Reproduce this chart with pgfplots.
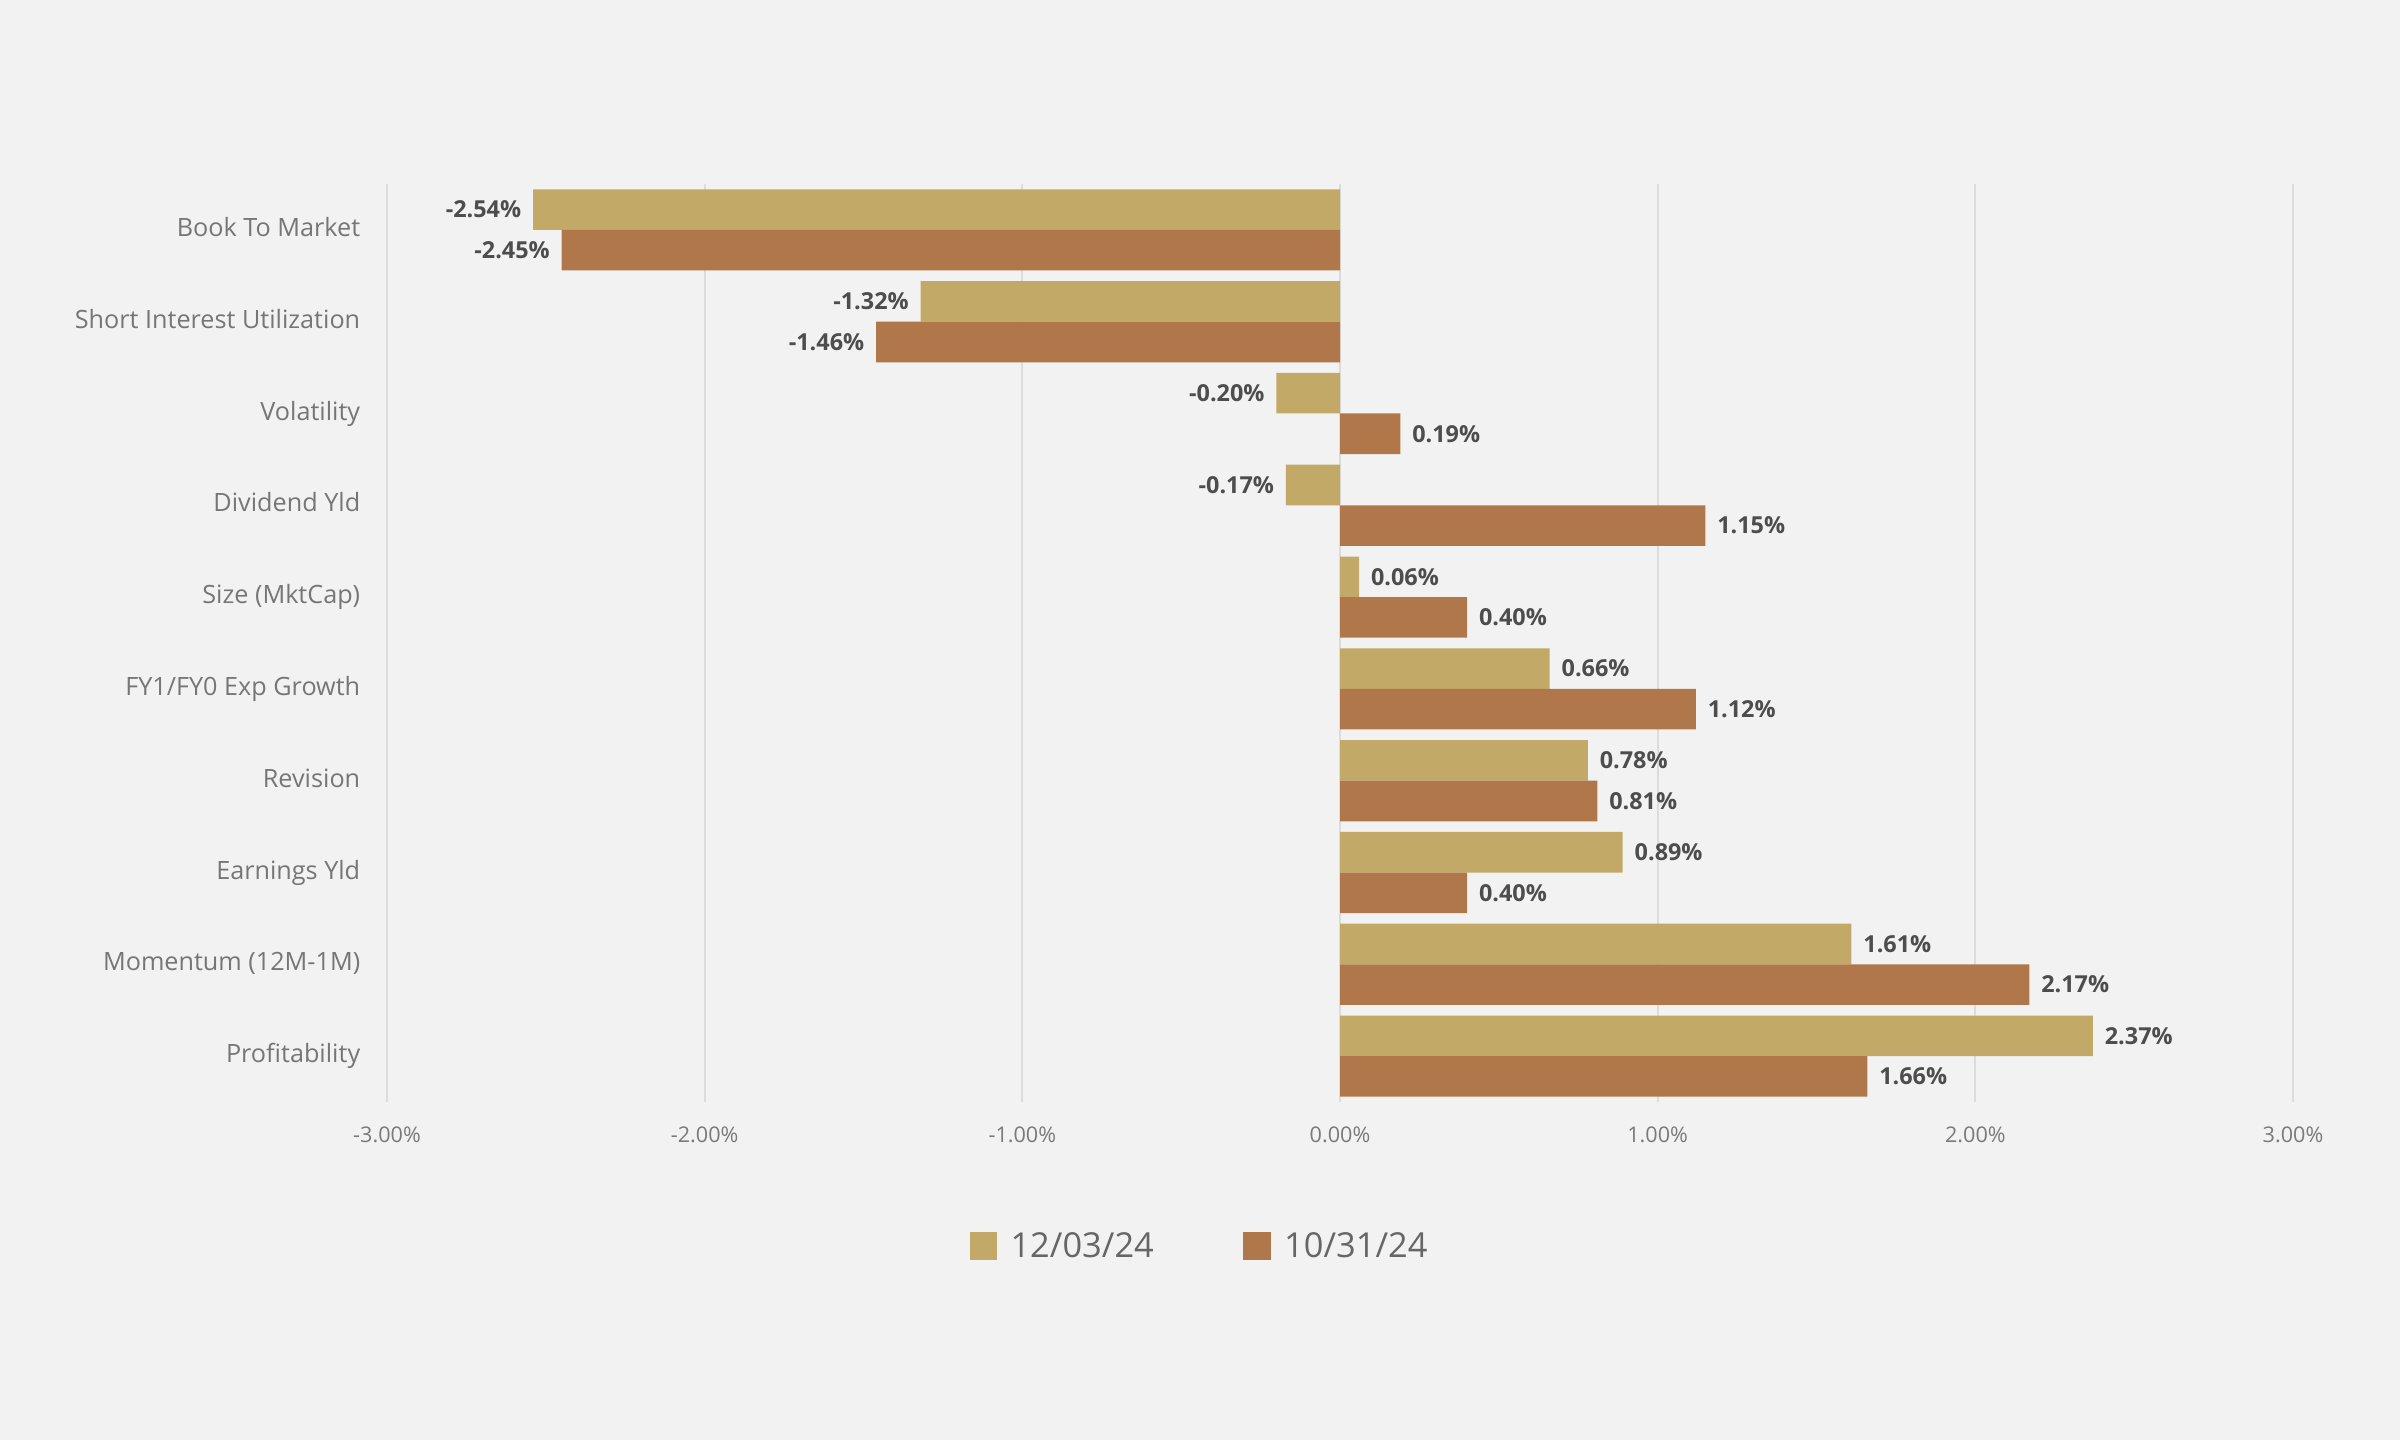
\documentclass[border=0pt]{standalone}
\usepackage{pgfplots}
\pgfplotsset{compat=1.18}
\usepackage{fontspec}
\setmainfont{Open Sans}
\definecolor{bg}{HTML}{F2F2F2}
\definecolor{gold}{HTML}{C2A968}
\definecolor{brownb}{HTML}{B0784A}
\definecolor{gridc}{HTML}{DCDCDC}
\definecolor{catc}{HTML}{767676}
\definecolor{tickc}{HTML}{7A7A7A}
\definecolor{valc}{HTML}{4D4D4D}
\definecolor{legc}{HTML}{666666}
\begin{document}
\begin{tikzpicture}
\fill[bg] (0,0) rectangle (600pt,360pt);
\begin{axis}[
  at={(96.75pt,84.5pt)}, anchor=south west,
  scale only axis, width=476.5pt, height=229.5pt,
  xmin=-3, xmax=3, ymin=-0.5, ymax=9.5, y dir=reverse,
  xbar, bar width=0.442,
  axis line style={draw=none}, major tick length=0pt,
  xmajorgrids, grid style={color=gridc, line width=0.5pt},
  xtick={-3,-2,-1,0,1,2,3},
  xticklabel={\pgfmathprintnumber[fixed,fixed zerofill,precision=2,assume math mode=true]{\tick}\%},
  xticklabel style={anchor=base, yshift=-10.1pt, font=\fontsize{5.4}{7}\selectfont, text=tickc},
  ytick={0,1,2,3,4,5,6,7,8,9},
  yticklabels={Book To Market,Short Interest Utilization,Volatility,Dividend Yld,Size (MktCap),FY1/FY0 Exp Growth,Revision,Earnings Yld,Momentum (12M-1M),Profitability},
  yticklabel style={anchor=base east, inner sep=0pt, xshift=-6.5pt, yshift=-1.65pt, font=\fontsize{6.3}{8}\selectfont, text=catc},
  nodes near coords={\pgfmathprintnumber[fixed,fixed zerofill,precision=2,assume math mode=true]{\pgfplotspointmeta}\%},
  point meta=x,
  nodes near coords align=horizontal,
  every node near coord/.append style={font=\fontsize{5.85}{7}\selectfont\bfseries, text=valc, inner xsep=2.8pt, inner ysep=0pt},
  legend style={at={(0.4294,-0.159)}, anchor=center, draw=none, fill=none, legend columns=2,
    font=\fontsize{8.6}{10}\selectfont, text=legc,
    nodes={inner xsep=3.4pt},
    /tikz/every even column/.append style={column sep=19pt}},
  legend image code/.code={\draw[#1,/tikz/.cd,draw=none] (0pt,-3.0pt) rectangle (6.8pt,3.9pt);},
]
\addplot[fill=gold, draw=none, bar shift=-0.221] coordinates {
(-2.54,0) (-1.32,1) (-0.20,2) (-0.17,3) (0.06,4) (0.66,5) (0.78,6) (0.89,7) (1.61,8) (2.37,9)};
\addlegendentry{12/03/24}
\addplot[fill=brownb, draw=none, bar shift=0.221] coordinates {
(-2.45,0) (-1.46,1) (0.19,2) (1.15,3) (0.40,4) (1.12,5) (0.81,6) (0.40,7) (2.17,8) (1.66,9)};
\addlegendentry{10/31/24}
\end{axis}
\end{tikzpicture}
\end{document}
